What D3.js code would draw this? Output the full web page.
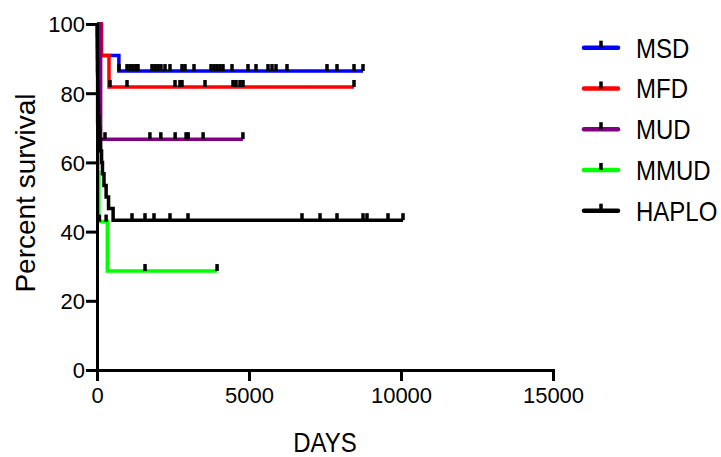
<!DOCTYPE html>
<html>
<head>
<meta charset="utf-8">
<script src="https://cdn.jsdelivr.net/npm/d3@7"></script>
<style>
  body { margin: 0; background: #fff; }
  text { font-family: "Liberation Sans", Arial, sans-serif; fill: #000; }
</style>
</head>
<body>
<svg width="721" height="457"></svg>
<script>
// tick labels
var xTicks = [0, 5000, 10000, 15000];
var yTicks = [0, 20, 40, 60, 80, 100];

var groups = ["MSD", "MFD", "MUD", "MMUD", "HAPLO"];
var colors = ["#0000ff", "#ff0000", "#800080", "#00ff00", "#000000"];

// step curves: day of each step and survival (%) after it, last point = end of follow-up
var msdDays = [0, 130, 720, 8750];
var msdSurv = [100, 90.9, 86.4, 86.4];
var msdCens = [724, 987, 1086, 1184, 1283, 1349, 1809, 1908, 2007, 2105, 2237, 2401, 2796, 2895,
               3191, 3750, 3849, 3947, 4046, 4145, 4441, 4967, 5230, 5625, 5757, 5888, 6250,
               7566, 7895, 8454, 8750];

var mfdDays = [0, 150, 395, 8454];
var mfdSurv = [100, 90.9, 81.8, 81.8];
var mfdCens = [428, 987, 2566, 2730, 2796, 3553, 4474, 4572, 4704, 4803, 8454];

var mudDays = [0, 120, 4800];
var mudSurv = [100, 66.7, 66.7];
var mudCens = [263, 1740, 2100, 2570, 2930, 3000, 3490, 4800];

var mmudDays = [0, 5, 15, 30, 60, 340, 3950];
var mmudSurv = [100, 85.7, 71.4, 57.1, 42.9, 28.6, 28.6];
var mmudCens = [80, 300, 1580, 3950];

var haploDays = [0, 5, 10, 15, 20, 25, 30, 40, 50, 70, 90, 120, 150, 180, 230, 300, 380, 530, 10066];
var haploSurv = [100, 96.7, 93.3, 90, 86.7, 83.3, 80, 76.7, 73.3, 70, 66.7, 63.3, 60, 56.7, 53.3, 50, 46.7, 43.3, 43.3];
var haploCens = [1151, 1579, 1875, 2401, 2993, 6743, 7336, 7895, 8750, 8882, 9572, 10066];

var allDays = [msdDays, mfdDays, mudDays, mmudDays, haploDays];
var allSurv = [msdSurv, mfdSurv, mudSurv, mmudSurv, haploSurv];
var allCens = [msdCens, mfdCens, mudCens, mmudCens, haploCens];

var svg = d3.select("svg");
var margin = {top: 24, left: 97},
    width = 456,
    height = 346;

var x = d3.scaleLinear().domain([0, 15000]).range([0, width]);
var y = d3.scaleLinear().domain([0, 100]).range([height, 0]);

var g = svg.append("g")
    .attr("transform", "translate(" + margin.left + "," + margin.top + ")");

function survAt(days, surv, t) {
  var i = d3.bisectRight(days, t) - 1;
  return surv[Math.max(0, i)];
}

var line = d3.line()
    .x(function(d) { return x(d[0]); })
    .y(function(d) { return y(d[1]); })
    .curve(d3.curveStepAfter);

groups.forEach(function(name, k) {
  var pts = allDays[k].map(function(d, i) { return [d, allSurv[k][i]]; });
  g.append("path")
      .datum(pts)
      .attr("fill", "none")
      .attr("stroke", colors[k])
      .attr("stroke-width", 3.5)
      .attr("d", line);
});

// censor ticks
groups.forEach(function(name, k) {
  g.selectAll(".cens" + k)
    .data(allCens[k])
    .enter().append("rect")
      .attr("class", "cens" + k)
      .attr("x", function(d) { return x(d) - 1.75; })
      .attr("y", function(d) { return y(survAt(allDays[k], allSurv[k], d)) - 7; })
      .attr("width", 3.5)
      .attr("height", 7)
      .attr("fill", "#000");
});

// axes
var xAxis = g.append("g")
    .attr("transform", "translate(0," + height + ")")
    .call(d3.axisBottom(x).tickValues(xTicks).tickFormat(d3.format("d")).tickSizeOuter(0).tickSize(11).tickPadding(6));

var yAxis = g.append("g")
    .call(d3.axisLeft(y).tickValues(yTicks).tickSizeOuter(0).tickSize(11).tickPadding(1));

[xAxis, yAxis].forEach(function(a) {
  a.select(".domain").attr("stroke", "#000").attr("stroke-width", 3);
  a.selectAll(".tick line").attr("stroke", "#000").attr("stroke-width", 3);
  a.selectAll(".tick text").attr("font-size", 22).style("font-family", "'Liberation Sans', Arial, sans-serif").attr("fill", "#000");
});
yAxis.selectAll(".tick text").attr("dy", "0.36em");

// axis titles (text in the reference is a bit taller than wide)
svg.append("text")
    .attr("transform", "translate(" + (margin.left + width / 2) + ",452) scale(1,1.18)")
    .attr("text-anchor", "middle")
    .attr("font-size", 24)
    .text("DAYS");

svg.append("text")
    .attr("transform", "translate(35," + (margin.top + height / 2 - 4) + ") rotate(-90)")
    .attr("text-anchor", "middle")
    .attr("font-size", 28)
    .text("Percent survival");

// legend
var legend = svg.append("g").attr("transform", "translate(582,47.7)");
groups.forEach(function(name, k) {
  var row = legend.append("g").attr("transform", "translate(0," + (k * 40.75) + ")");
  row.append("line")
      .attr("x1", 2).attr("x2", 36)
      .attr("stroke", colors[k])
      .attr("stroke-width", 4.5)
      .attr("stroke-linecap", "round");
  row.append("rect")
      .attr("x", 17.25).attr("y", -7)
      .attr("width", 3.5).attr("height", 7)
      .attr("fill", "#000");
  row.append("text")
      .attr("transform", "translate(54,10) scale(1,1.18)")
      .attr("font-size", 24)
      .text(name);
});
</script>
</body>
</html>
